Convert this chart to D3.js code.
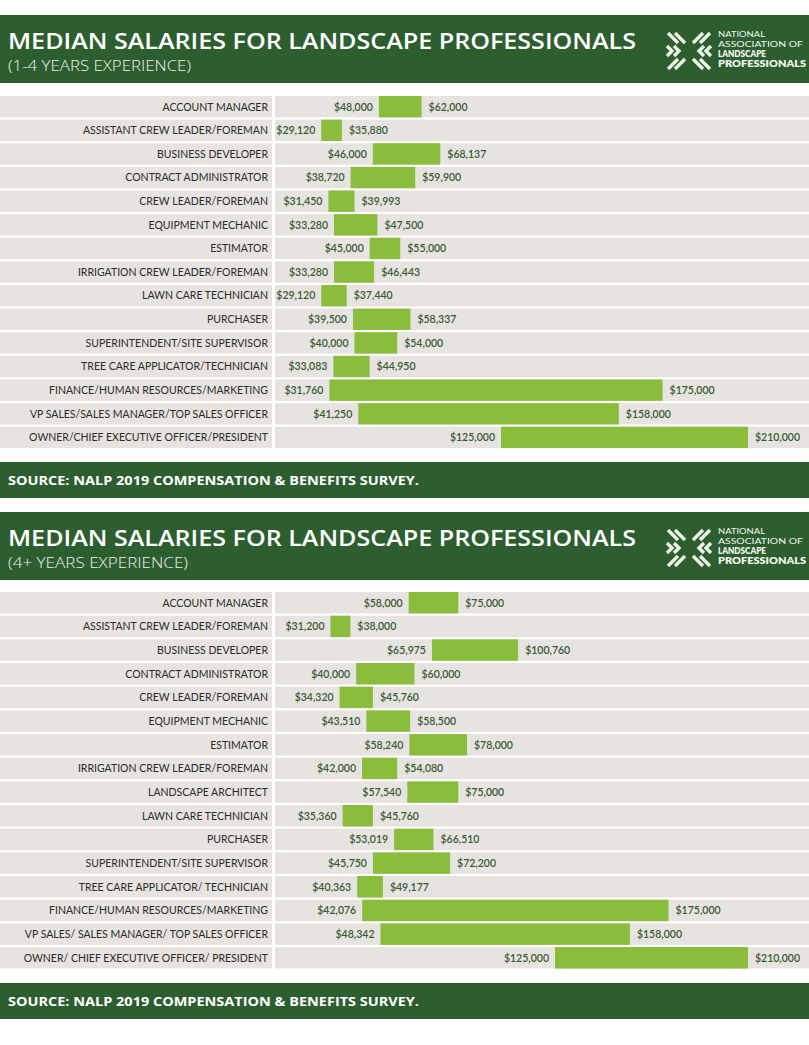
<!DOCTYPE html>
<html><head><meta charset="utf-8">
<script src="https://cdn.jsdelivr.net/npm/d3@7"></script>
<style>body{margin:0;background:#fff}svg{display:block}</style>
</head><body><svg id="c" width="809" height="1045"></svg>
<script>
// ---------- DATA ----------
const chartTitle = "MEDIAN SALARIES FOR LANDSCAPE PROFESSIONALS";
const topSubtitle = "(1-4 YEARS EXPERIENCE)";
const bottomSubtitle = "(4+ YEARS EXPERIENCE)";
const sourceNote = "SOURCE: NALP 2019 COMPENSATION & BENEFITS SURVEY.";
const logoLines = ["NATIONAL", "ASSOCIATION OF", "LANDSCAPE", "PROFESSIONALS"];

const topCategories = [
  "ACCOUNT MANAGER", "ASSISTANT CREW LEADER/FOREMAN", "BUSINESS DEVELOPER",
  "CONTRACT ADMINISTRATOR", "CREW LEADER/FOREMAN", "EQUIPMENT MECHANIC",
  "ESTIMATOR", "IRRIGATION CREW LEADER/FOREMAN", "LAWN CARE TECHNICIAN",
  "PURCHASER", "SUPERINTENDENT/SITE SUPERVISOR", "TREE CARE APPLICATOR/TECHNICIAN",
  "FINANCE/HUMAN RESOURCES/MARKETING", "VP SALES/SALES MANAGER/TOP SALES OFFICER",
  "OWNER/CHIEF EXECUTIVE OFFICER/PRESIDENT"
];
const topLow  = [48000, 29120, 46000, 38720, 31450, 33280, 45000, 33280, 29120, 39500, 40000, 33083, 31760, 41250, 125000];
const topHigh = [62000, 35880, 68137, 59900, 39993, 47500, 55000, 46443, 37440, 58337, 54000, 44950, 175000, 158000, 210000];

const bottomCategories = [
  "ACCOUNT MANAGER", "ASSISTANT CREW LEADER/FOREMAN", "BUSINESS DEVELOPER",
  "CONTRACT ADMINISTRATOR", "CREW LEADER/FOREMAN", "EQUIPMENT MECHANIC",
  "ESTIMATOR", "IRRIGATION CREW LEADER/FOREMAN", "LANDSCAPE ARCHITECT",
  "LAWN CARE TECHNICIAN", "PURCHASER", "SUPERINTENDENT/SITE SUPERVISOR",
  "TREE CARE APPLICATOR/ TECHNICIAN", "FINANCE/HUMAN RESOURCES/MARKETING",
  "VP SALES/ SALES MANAGER/ TOP SALES OFFICER", "OWNER/ CHIEF EXECUTIVE OFFICER/ PRESIDENT"
];
const bottomLow  = [58000, 31200, 65975, 40000, 34320, 43510, 58240, 42000, 57540, 35360, 53019, 45750, 40363, 42076, 48342, 125000];
const bottomHigh = [75000, 38000, 100760, 60000, 45760, 58500, 78000, 54080, 75000, 45760, 66510, 72200, 49177, 175000, 158000, 210000];

// salary anchors of the (non-uniform) infographic scale
const topScaleStops = [30000, 70000, 125000, 160000, 210000];
const bottomScaleStops = [30000, 78000, 100000, 125000, 210000];

// ---------- STYLE ----------
const W = 809;
const darkGreen = "#2c5e30";
const rowGray = "#e6e3e0";
const barGreen = "#8bbd3d";
const labelColor = "#2b2b2b";
const valueColor = "#3a5a31";
const fmt = d3.format("$,");

const svg = d3.select("#c");

function drawLogo(g) {
  const mark = g.append("g").attr("transform", "translate(665,31)")
    .attr("fill", "none").attr("stroke", "#eef3e6").attr("stroke-width", 3.4);
  const paths = [
    [[3,2],[13,12]], [[10,2],[20,12]],
    [[45,2],[35,12]], [[38,2],[28,12]],
    [[2,15],[7,20],[2,25]], [[9,15],[14,20],[9,25]],
    [[46,15],[41,20],[46,25]], [[39,15],[34,20],[39,25]],
    [[3,38],[13,28]], [[10,38],[20,28]],
    [[45,38],[35,28]], [[38,38],[28,28]]
  ];
  mark.selectAll("path").data(paths).join("path").attr("d", d3.line());
  const t = g.append("g").attr("fill", "#f2f5ee").attr("font-family", "Lato, sans-serif");
  const specs = [
    {y: 37, size: 8.3, w: 400, len: 47},
    {y: 47, size: 8.3, w: 400, len: 85},
    {y: 57, size: 8.3, w: 800, len: 48},
    {y: 67, size: 8.3, w: 800, len: 88}
  ];
  logoLines.forEach((s, i) => {
    t.append("text").attr("x", 718).attr("y", specs[i].y)
      .attr("font-size", specs[i].size).attr("font-weight", specs[i].w)
      .attr("textLength", specs[i].len).attr("lengthAdjust", "spacingAndGlyphs")
      .text(s);
  });
}

function drawPanel(cfg) {
  const g = svg.append("g");
  // header
  g.append("rect").attr("x", 0).attr("y", cfg.headerY).attr("width", W).attr("height", 68).attr("fill", darkGreen);
  const hg = g.append("g").attr("transform", `translate(0,${cfg.headerY - 15})`);
  hg.append("text").attr("x", 8).attr("y", 48.5)
    .attr("font-family", "Open Sans, sans-serif").attr("font-weight", 600).attr("font-size", 21)
    .attr("fill", "#ffffff").attr("textLength", 628).attr("lengthAdjust", "spacingAndGlyphs")
    .text(chartTitle);
  hg.append("text").attr("x", 8).attr("y", 71)
    .attr("font-family", "Open Sans, sans-serif").attr("font-weight", 300).attr("font-size", 14)
    .attr("fill", "#eef2ea").attr("textLength", cfg.subLen).attr("lengthAdjust", "spacingAndGlyphs")
    .text(cfg.subtitle);
  drawLogo(hg);

  // rows
  const n = cfg.categories.length;
  const step = cfg.step;
  const y = d3.scaleBand().domain(cfg.categories)
    .range([cfg.rowsY0, cfg.rowsY0 + n * step - 2.2]).paddingInner(2.2 / step).paddingOuter(0);
  const x = d3.scaleLinear().domain(cfg.stops).range(cfg.stopsRange);

  const rows = g.append("g").selectAll("g").data(cfg.categories).join("g")
    .attr("transform", d => `translate(0,${y(d)})`);
  const bh = y.bandwidth();
  rows.append("rect").attr("x", 0).attr("width", 272).attr("height", bh).attr("fill", rowGray);
  rows.append("rect").attr("x", 275).attr("width", W - 275).attr("height", bh).attr("fill", rowGray);
  rows.append("text").attr("x", 268).attr("y", bh / 2 + 3.8).attr("text-anchor", "end")
    .attr("font-family", "Lato, sans-serif").attr("font-size", 10.5).attr("fill", labelColor)
    .text(d => d);
  rows.append("rect")
    .attr("x", (d, i) => x(cfg.low[i]))
    .attr("width", (d, i) => x(cfg.high[i]) - x(cfg.low[i]))
    .attr("height", bh).attr("fill", barGreen);
  rows.append("text").attr("x", (d, i) => x(cfg.low[i]) - 6).attr("y", bh / 2 + 3.8)
    .attr("text-anchor", "end").attr("font-family", "Lato, sans-serif").attr("font-weight", 600)
    .attr("font-size", 10.5).attr("fill", valueColor).text((d, i) => fmt(cfg.low[i]));
  rows.append("text").attr("x", (d, i) => x(cfg.high[i]) + 7).attr("y", bh / 2 + 3.8)
    .attr("text-anchor", "start").attr("font-family", "Lato, sans-serif").attr("font-weight", 600)
    .attr("font-size", 10.5).attr("fill", valueColor).text((d, i) => fmt(cfg.high[i]));

  // footer
  g.append("rect").attr("x", 0).attr("y", cfg.footerY).attr("width", W).attr("height", 36).attr("fill", darkGreen);
  g.append("text").attr("x", 8).attr("y", cfg.footerY + 22.5)
    .attr("font-family", "Open Sans, sans-serif").attr("font-weight", 700).attr("font-size", 13)
    .attr("fill", "#ffffff").attr("textLength", 411).attr("lengthAdjust", "spacingAndGlyphs")
    .text(sourceNote);
}

drawPanel({
  headerY: 15, subtitle: topSubtitle, subLen: 183,
  categories: topCategories, low: topLow, high: topHigh,
  rowsY0: 96, step: 23.62,
  stops: topScaleStops, stopsRange: [324, 446, 501, 626, 748],
  footerY: 462
});
drawPanel({
  headerY: 512, subtitle: bottomSubtitle, subLen: 180,
  categories: bottomCategories, low: bottomLow, high: bottomHigh,
  rowsY0: 592, step: 23.67,
  stops: bottomScaleStops, stopsRange: [327, 467, 517, 555, 748],
  footerY: 983
});
</script></body></html>
